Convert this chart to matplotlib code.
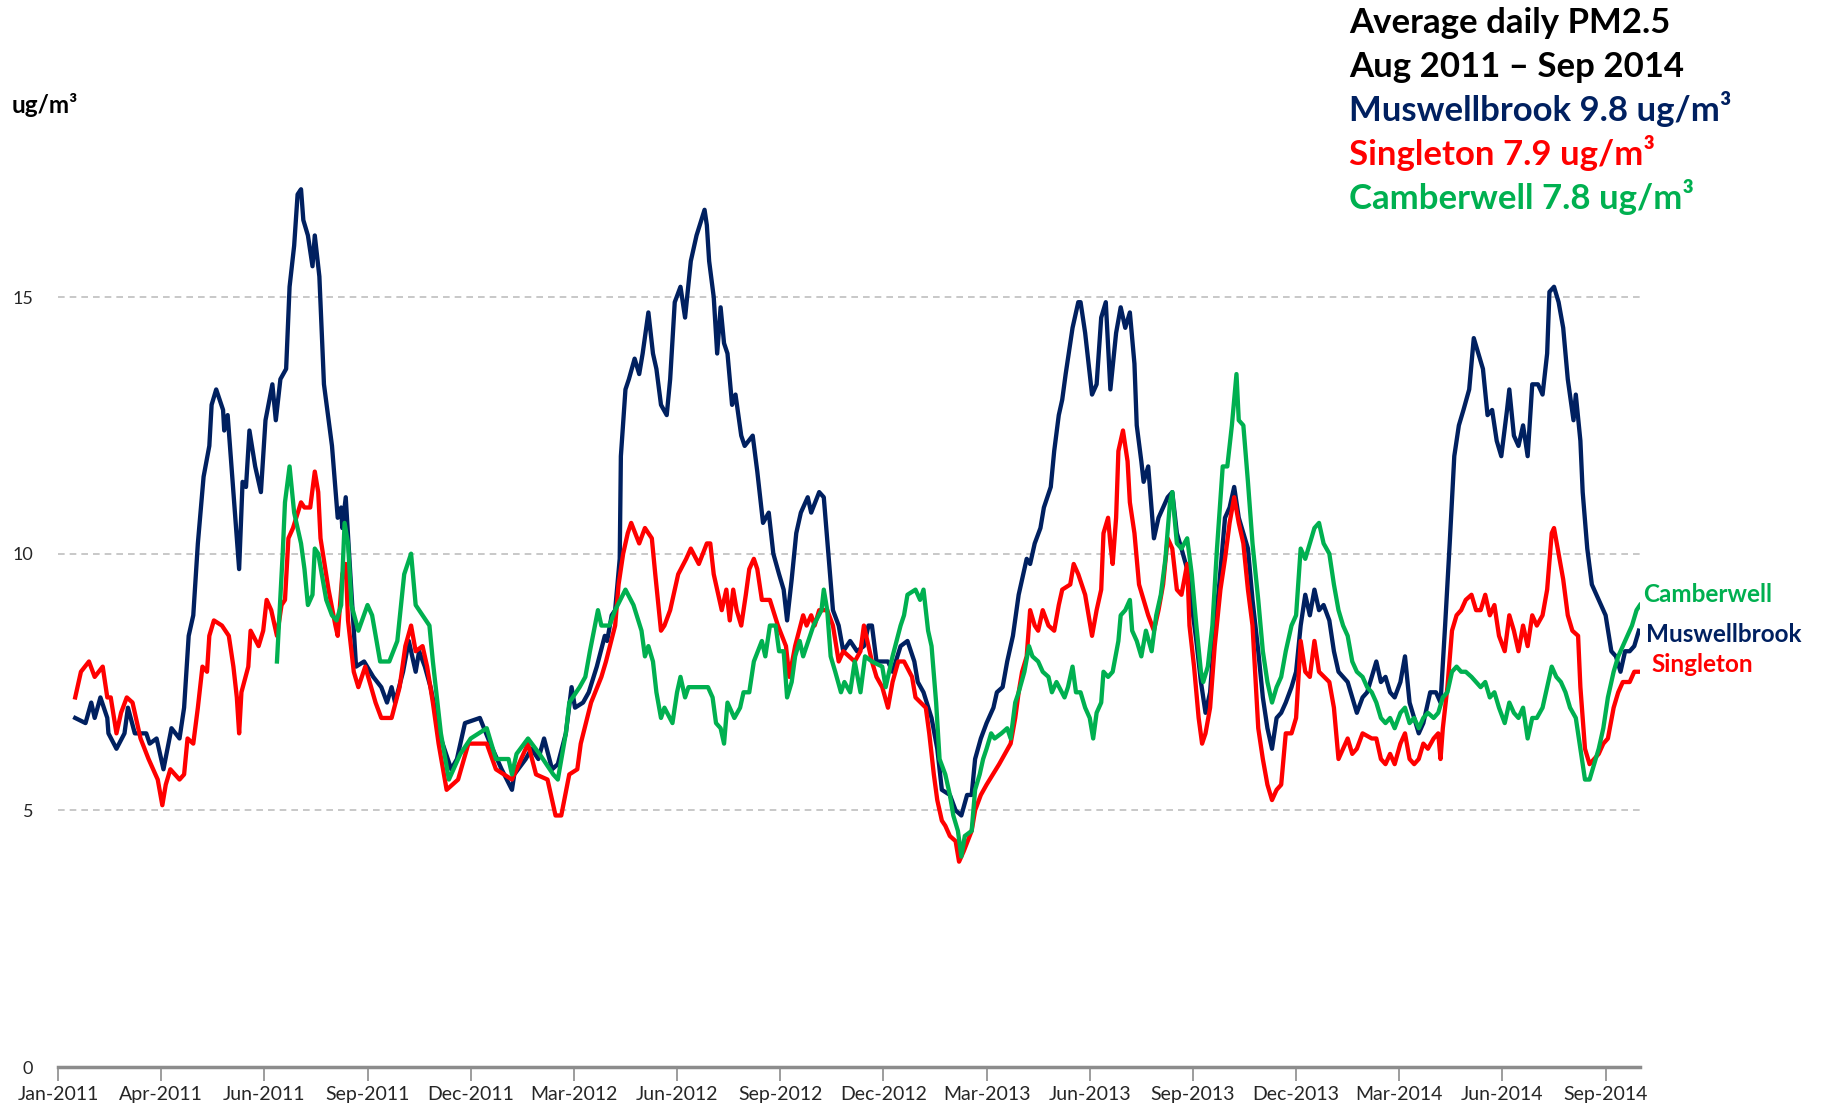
import pandas as pd
import numpy as np
import matplotlib
matplotlib.use("Agg")
import matplotlib.pyplot as plt
import matplotlib.dates as mdates

plt.rcParams['font.family'] = ['Lato', 'DejaVu Sans']

# days are counted from 1 Jan 2011
START = pd.Timestamp("2011-01-01")

mus_days = [15, 24, 29, 32, 37, 43, 44, 51, 58, 61, 67, 77, 80, 86, 92, 99, 106, 110, 114, 118,
            122, 127, 132, 134, 138, 144, 145, 148, 153, 156, 158, 161, 164, 167, 172, 177, 181, 187, 190, 194,
            199, 202, 206, 209, 212, 214, 218, 222, 224, 228, 232, 239, 244, 247, 248, 251, 255, 260, 267, 275,
            282, 287, 291, 294, 301, 306, 312, 315, 320, 325, 334, 343, 348, 355, 368, 377, 387, 396, 398, 408,
            413, 419, 424, 431, 436, 443, 448, 451, 458, 463, 470, 477,
            479, 483, 486, 490, 491, 495, 498, 503, 507, 510, 515, 519, 522, 526, 531, 534, 538, 543, 547, 552,
            557, 564, 566, 568, 572, 575, 578, 581, 584, 588, 591, 596, 599, 606, 610, 615, 620, 624, 629, 633,
            636, 640, 644, 648, 654, 657, 664, 668, 672, 676, 681, 685, 691, 697, 703, 707, 710, 714, 724, 728,
            735, 741, 747, 750, 755, 762, 767, 771, 778, 783, 788, 793, 797, 800, 805, 810, 816, 819, 824, 828,
            833, 838, 842, 845, 848, 852, 857, 860, 866, 869, 873, 876, 879, 885, 890,
            892, 896, 898, 902, 906, 910, 914, 918, 923, 927, 931, 935, 939, 941, 945, 947, 951, 956, 960, 964,
            968, 972, 976, 980, 985, 989, 993, 997, 1001, 1005, 1009, 1013, 1018, 1022, 1026, 1030, 1034, 1038, 1042, 1047,
            1051, 1055, 1059, 1063, 1067, 1071, 1076, 1080, 1084, 1088, 1092, 1096, 1100, 1104, 1109, 1113, 1117, 1121, 1125, 1129,
            1133, 1138, 1142, 1146, 1150, 1154, 1158, 1162, 1166, 1171, 1175, 1179, 1183, 1187, 1191, 1197, 1202, 1206, 1210, 1214,
            1218, 1222, 1226, 1231, 1235, 1239, 1243, 1247, 1251, 1255, 1259, 1264, 1266, 1270, 1274, 1278, 1282, 1286, 1291, 1295,
            1299, 1301, 1305, 1309, 1313, 1317, 1322, 1324, 1328, 1330, 1334, 1338, 1342, 1346, 1350, 1355, 1359, 1363, 1367, 1371,
            1375, 1379]
mus_vals = [6.8, 6.7, 7.1, 6.8, 7.2, 6.8, 6.5, 6.2, 6.5, 7.0, 6.5, 6.5, 6.3, 6.4, 5.8, 6.6, 6.4, 7.0, 8.4, 8.8,
            10.2, 11.5, 12.1, 12.9, 13.2, 12.8, 12.4, 12.7, 11.2, 10.3, 9.7, 11.4, 11.3, 12.4, 11.7, 11.2, 12.6, 13.3, 12.6, 13.4,
            13.6, 15.2, 16.0, 17.0, 17.1, 16.5, 16.2, 15.6, 16.2, 15.4, 13.3, 12.1, 10.7, 10.9, 10.5, 11.1, 9.6, 7.8, 7.9, 7.6,
            7.4, 7.1, 7.4, 7.1, 7.7, 8.3, 7.7, 8.1, 7.8, 7.4, 6.4, 5.8, 6.0, 6.7, 6.8, 6.3, 5.8, 5.4, 5.7, 6.0,
            6.2, 6.0, 6.4, 5.8, 5.9, 6.5, 7.4, 7.0, 7.1, 7.3, 7.8, 8.4,
            8.3, 8.8, 8.9, 9.9, 11.9, 13.2, 13.4, 13.8, 13.5, 13.9, 14.7, 13.9, 13.6, 12.9, 12.7, 13.4, 14.9, 15.2, 14.6, 15.7,
            16.2, 16.7, 16.4, 15.7, 15.0, 13.9, 14.8, 14.1, 13.9, 12.9, 13.1, 12.3, 12.1, 12.3, 11.6, 10.6, 10.8, 10.0, 9.6, 9.3,
            8.7, 9.5, 10.4, 10.8, 11.1, 10.8, 11.2, 11.1, 10.0, 8.9, 8.6, 8.1, 8.3, 8.1, 8.2, 8.6, 8.6, 7.9, 7.9, 7.7,
            8.2, 8.3, 7.9, 7.5, 7.3, 6.8, 6.2, 5.4, 5.3, 5.0, 4.9, 5.3, 5.3, 6.0, 6.4, 6.7, 7.0, 7.3, 7.4, 7.9,
            8.4, 9.2, 9.6, 9.9, 9.8, 10.2, 10.5, 10.9, 11.3, 12.0, 12.7, 13.0, 13.5, 14.4, 14.9,
            14.9, 14.3, 13.9, 13.1, 13.3, 14.6, 14.9, 13.2, 14.3, 14.8, 14.4, 14.7, 13.7, 12.5, 11.8, 11.4, 11.7, 10.3, 10.7, 10.9,
            11.1, 11.2, 10.4, 10.1, 9.7, 9.0, 8.3, 7.5, 6.9, 7.3, 8.5, 9.4, 10.7, 10.9, 11.3, 10.7, 10.4, 10.1, 9.1, 8.1,
            7.2, 6.6, 6.2, 6.8, 6.9, 7.1, 7.4, 7.7, 8.6, 9.2, 8.8, 9.3, 8.9, 9.0, 8.7, 8.1, 7.7, 7.6, 7.5, 7.2,
            6.9, 7.2, 7.3, 7.6, 7.9, 7.5, 7.6, 7.3, 7.2, 7.5, 8.0, 7.1, 6.8, 6.5, 6.7, 7.3, 7.3, 7.1, 8.6, 10.2,
            11.9, 12.5, 12.8, 13.2, 14.2, 13.9, 13.6, 12.7, 12.8, 12.2, 11.9, 12.8, 13.2, 12.3, 12.1, 12.5, 11.9, 13.3, 13.3, 13.1,
            13.9, 15.1, 15.2, 14.9, 14.4, 13.4, 12.6, 13.1, 12.2, 11.2, 10.1, 9.4, 9.2, 9.0, 8.8, 8.1, 8.0, 7.7, 8.1, 8.1,
            8.2, 8.5]

sing_days = [15, 20, 27, 32, 39, 43, 46, 51, 55, 60, 65, 72, 79, 87, 91, 94, 98, 106, 110, 113,
             118, 122, 126, 130, 132, 136, 143, 149, 153, 156, 158, 160, 166, 168, 175, 179, 182, 186, 191, 195,
             198, 201, 205, 212, 215, 220, 224, 227, 229, 236, 242, 244, 248, 251, 253, 258, 262, 268, 277, 282,
             291, 298, 303, 308, 312, 318, 322, 327, 332, 339, 349, 358, 374, 382, 389, 396, 410, 417, 427, 434,
             439, 446, 453, 456, 465, 474,
             478, 486, 489, 493, 497, 500, 507, 512, 518, 521, 526, 529, 534, 541, 548, 552, 559, 566, 569, 572,
             576, 579, 583, 586, 589, 592, 596, 600, 603, 607, 610, 614, 621, 628, 635, 638, 643, 650, 653, 657,
             660, 664, 671, 676, 681, 685, 695, 700, 703, 710, 714, 719, 724, 728, 733, 738, 745, 748, 757, 760,
             764, 767, 771, 774, 778, 783, 786, 790, 797, 800, 805, 810, 821, 831, 835, 838, 841, 845, 848, 852,
             855, 859, 864, 869, 873, 876, 883, 886, 890,
             896, 902, 906, 910, 912, 916, 918, 920, 923, 925, 929, 933, 935, 939, 943, 947, 951, 956, 960, 964,
             968, 972, 976, 980, 985, 987, 991, 995, 998, 1001, 1005, 1009, 1014, 1018, 1022, 1026, 1030, 1034, 1038, 1042,
             1047, 1051, 1055, 1059, 1063, 1067, 1071, 1076, 1080, 1084, 1088, 1092, 1096, 1100, 1109, 1113, 1117, 1121, 1125, 1129,
             1133, 1138, 1146, 1150, 1154, 1158, 1162, 1166, 1171, 1175, 1179, 1183, 1187, 1191, 1195, 1200, 1204, 1206, 1208, 1212,
             1216, 1220, 1224, 1228, 1233, 1237, 1241, 1245, 1249, 1253, 1257, 1262, 1266, 1270, 1274, 1278, 1282, 1286, 1290, 1295,
             1299, 1303, 1305, 1309, 1313, 1317, 1321, 1326, 1328, 1332, 1336, 1340, 1344, 1348, 1352, 1357, 1361, 1365, 1371, 1375,
             1379]
sing_vals = [7.2, 7.7, 7.9, 7.6, 7.8, 7.2, 7.2, 6.5, 6.9, 7.2, 7.1, 6.4, 6.0, 5.6, 5.1, 5.5, 5.8, 5.6, 5.7, 6.4,
             6.3, 7.0, 7.8, 7.7, 8.4, 8.7, 8.6, 8.4, 7.8, 7.2, 6.5, 7.3, 7.8, 8.5, 8.2, 8.5, 9.1, 8.9, 8.4, 9.0,
             9.1, 10.3, 10.5, 11.0, 10.9, 10.9, 11.6, 11.2, 10.3, 9.3, 8.6, 8.4, 9.6, 9.8, 8.7, 7.7, 7.4, 7.8, 7.1, 6.8,
             6.8, 7.4, 8.2, 8.6, 8.1, 8.2, 7.8, 7.1, 6.3, 5.4, 5.6, 6.3, 6.3, 5.8, 5.7, 5.6, 6.3, 5.7, 5.6, 4.9,
             4.9, 5.7, 5.8, 6.3, 7.1, 7.6,
             7.9, 8.6, 9.4, 10.0, 10.4, 10.6, 10.2, 10.5, 10.3, 9.6, 8.5, 8.6, 8.9, 9.6, 9.9, 10.1, 9.8, 10.2, 10.2, 9.6,
             9.2, 8.9, 9.3, 8.7, 9.3, 8.9, 8.6, 9.2, 9.7, 9.9, 9.7, 9.1, 9.1, 8.6, 8.2, 7.6, 8.2, 8.8, 8.6, 8.8,
             8.6, 8.9, 8.9, 8.6, 7.9, 8.1, 7.9, 8.1, 8.6, 7.9, 7.6, 7.4, 7.0, 7.5, 7.9, 7.9, 7.6, 7.2, 7.0, 6.5,
             5.7, 5.2, 4.8, 4.7, 4.5, 4.4, 4.0, 4.2, 4.6, 5.0, 5.3, 5.5, 5.9, 6.3, 6.8, 7.3, 7.7, 8.0, 8.9, 8.6,
             8.5, 8.9, 8.6, 8.5, 9.0, 9.3, 9.4, 9.8, 9.6,
             9.2, 8.4, 8.9, 9.3, 10.4, 10.7, 10.2, 9.8, 10.7, 12.0, 12.4, 11.8, 11.0, 10.4, 9.4, 9.1, 8.8, 8.5, 8.9, 9.4,
             10.3, 10.1, 9.3, 9.2, 9.8, 8.6, 7.8, 6.8, 6.3, 6.5, 7.0, 8.2, 9.3, 9.9, 10.6, 11.1, 10.6, 10.2, 9.3, 8.6,
             6.6, 6.0, 5.5, 5.2, 5.4, 5.5, 6.5, 6.5, 6.8, 8.3, 7.7, 7.6, 8.3, 7.7, 7.5, 7.0, 6.0, 6.2, 6.4, 6.1,
             6.2, 6.5, 6.4, 6.4, 6.0, 5.9, 6.1, 5.9, 6.3, 6.5, 6.0, 5.9, 6.0, 6.3, 6.2, 6.4, 6.5, 6.0, 6.6, 7.4,
             8.5, 8.8, 8.9, 9.1, 9.2, 8.9, 8.9, 9.2, 8.8, 9.0, 8.4, 8.1, 8.8, 8.5, 8.1, 8.6, 8.2, 8.8, 8.6, 8.8,
             9.3, 10.4, 10.5, 10.0, 9.5, 8.8, 8.5, 8.4, 7.4, 6.2, 5.9, 6.0, 6.1, 6.3, 6.4, 7.0, 7.3, 7.5, 7.5, 7.7,
             7.7]

camb_days = [191, 196, 198, 202, 206, 212, 215, 218, 222, 224, 227, 234, 239, 243, 247, 250, 253, 256, 262, 270,
             274, 281, 289, 296, 302, 308, 312, 324, 327, 334, 341, 351, 360, 374, 382, 393, 396, 400, 410, 420,
             432, 436,
             443, 446, 455, 460, 464, 471, 474, 481, 486, 495, 502, 509, 512, 515, 519, 522, 526, 529, 536, 540,
             543, 547, 550, 557, 562, 567, 571, 574, 578, 581, 584, 590, 595, 598, 603, 607, 614, 617, 621, 626,
             629, 633, 636, 640, 643, 647, 650, 653, 659, 666, 668, 671, 674, 678, 683, 686, 691, 695, 700, 704,
             710, 719, 722, 728, 735, 738, 741, 748, 752, 755, 759, 762, 766, 769, 774, 778, 781, 785, 788, 791,
             797, 800, 804, 807, 810, 814, 817, 823, 828, 831, 835, 838, 843, 847, 850, 855, 859, 864, 867, 871,
             878, 881, 885, 888,
             892, 896, 900, 903, 906, 910, 912, 916, 920, 925, 927, 931, 935, 937, 941, 945, 949, 954, 958, 962,
             966, 970, 972, 976, 980, 985, 989, 993, 997, 999, 1003, 1007, 1011, 1016, 1020, 1024, 1028, 1030, 1034, 1038,
             1042, 1047, 1051, 1055, 1059, 1063, 1067, 1071, 1076, 1080, 1084, 1088, 1092, 1096, 1100, 1104, 1109, 1113, 1117, 1121,
             1125, 1129, 1133, 1138, 1142, 1146, 1150, 1154, 1158, 1162, 1166, 1171, 1175, 1179, 1183, 1187, 1191, 1195, 1200, 1204,
             1208, 1212, 1216, 1220, 1224, 1228, 1233, 1237, 1241, 1245, 1249, 1253, 1257, 1262, 1266, 1270, 1274, 1278, 1282, 1286,
             1290, 1295, 1299, 1303, 1307, 1311, 1315, 1319, 1324, 1328, 1332, 1336, 1340, 1344, 1348, 1352, 1357, 1361, 1365, 1369,
             1373, 1377, 1380]
camb_vals = [7.9, 10.0, 11.0, 11.7, 10.8, 10.2, 9.7, 9.0, 9.2, 10.1, 10.0, 9.1, 8.8, 8.7, 9.0, 10.6, 10.2, 9.0, 8.5, 9.0,
             8.8, 7.9, 7.9, 8.3, 9.6, 10.0, 9.0, 8.6, 7.9, 6.5, 5.6, 6.1, 6.4, 6.6, 6.0, 6.0, 5.7, 6.1, 6.4, 6.1,
             5.7, 5.6,
             6.5, 7.1, 7.4, 7.6, 8.1, 8.9, 8.6, 8.6, 8.9, 9.3, 9.0, 8.5, 8.0, 8.2, 7.9, 7.3, 6.8, 7.0, 6.7, 7.3,
             7.6, 7.2, 7.4, 7.4, 7.4, 7.4, 7.2, 6.7, 6.6, 6.3, 7.1, 6.8, 7.0, 7.3, 7.3, 7.9, 8.3, 8.0, 8.6, 8.6,
             8.1, 8.1, 7.2, 7.5, 8.0, 8.3, 8.0, 8.2, 8.6, 8.9, 9.3, 8.9, 8.0, 7.7, 7.3, 7.5, 7.3, 7.9, 7.3, 8.0,
             7.9, 7.8, 7.4, 8.0, 8.6, 8.8, 9.2, 9.3, 9.1, 9.3, 8.5, 8.2, 7.1, 6.0, 5.7, 5.3, 4.9, 4.6, 4.1, 4.5,
             4.6, 5.4, 5.7, 6.0, 6.2, 6.5, 6.4, 6.5, 6.6, 6.4, 7.1, 7.3, 7.7, 8.2, 8.0, 7.9, 7.7, 7.6, 7.3, 7.5,
             7.2, 7.4, 7.8, 7.3,
             7.3, 7.0, 6.8, 6.4, 6.9, 7.1, 7.7, 7.6, 7.7, 8.3, 8.8, 8.9, 9.1, 8.5, 8.3, 8.0, 8.5, 8.1, 8.8, 9.2,
             9.9, 11.0, 11.2, 10.2, 10.1, 10.3, 9.6, 8.6, 7.7, 7.5, 7.8, 8.6, 10.1, 11.7, 11.7, 12.5, 13.5, 12.6, 12.5, 11.4,
             10.2, 9.1, 8.1, 7.5, 7.1, 7.4, 7.6, 8.1, 8.6, 8.8, 10.1, 9.9, 10.2, 10.5, 10.6, 10.2, 10.0, 9.4, 8.9, 8.6,
             8.4, 7.9, 7.7, 7.6, 7.4, 7.3, 7.1, 6.8, 6.7, 6.8, 6.6, 6.9, 7.0, 6.7, 6.8, 6.6, 6.8, 6.9, 6.8, 6.9,
             7.2, 7.3, 7.7, 7.8, 7.7, 7.7, 7.6, 7.5, 7.4, 7.5, 7.2, 7.3, 7.0, 6.7, 7.1, 6.9, 6.8, 7.0, 6.4, 6.8,
             6.8, 7.0, 7.4, 7.8, 7.6, 7.5, 7.3, 7.0, 6.8, 6.2, 5.6, 5.6, 5.9, 6.2, 6.6, 7.2, 7.7, 8.0, 8.2, 8.4,
             8.6, 8.9, 9.0]

NAVY = "#002060"
RED = "#FF0000"
GREEN = "#00B050"

title_lines = ["Average daily PM2.5", "Aug 2011 \u2013 Sep 2014",
               "Muswellbrook 9.8 ug/m\u00b3", "Singleton 7.9 ug/m\u00b3", "Camberwell 7.8 ug/m\u00b3"]
title_colors = ["black", "black", NAVY, RED, GREEN]


def to_dates(days):
    return START + pd.to_timedelta(np.array(days), unit="D")


W, H = 1823, 1104
fig = plt.figure(figsize=(W / 100, H / 100), dpi=100)
ax = fig.add_axes([58 / W, 37 / H, (1640 - 58) / W, 19 * 51.33 / H])

ax.plot(to_dates(mus_days), mus_vals, color=NAVY, lw=3.1, solid_joinstyle="round")
ax.plot(to_dates(sing_days), sing_vals, color=RED, lw=3.1, solid_joinstyle="round")
ax.plot(to_dates(camb_days), camb_vals, color=GREEN, lw=3.1, solid_joinstyle="round")

ax.set_xlim(START, START + pd.Timedelta(days=1380))
ax.set_ylim(0, 19)

# excel style date axis: a tick every 90 days
ticks = [START + pd.Timedelta(days=90 * k) for k in range(16)]
ax.set_xticks(ticks)
ax.xaxis.set_major_formatter(mdates.DateFormatter("%b-%Y"))
ax.set_yticks([0, 5, 10, 15])
ax.set_yticklabels(["0", "5", "10", "15"])

for s in ["top", "right", "left"]:
    ax.spines[s].set_visible(False)
ax.spines["bottom"].set_color("#8c8c8c")
ax.spines["bottom"].set_linewidth(2.5)
ax.tick_params(axis="x", length=10, width=1.2, color="#8c8c8c", pad=4, labelsize=14, labelcolor="#262626")
ax.tick_params(axis="y", length=0, pad=18, labelsize=13, labelcolor="#262626")

for yv in [5, 10, 15]:
    ax.axhline(yv, color="#bfbfbf", lw=1.2, ls=(0, (4, 3)), zorder=0)

fig.text(12 / W, 1 - 105 / H, "ug/m\u00b3", fontsize=17.5, fontweight="bold", va="center", ha="left")

baselines = [33, 77, 121, 165, 209]
for txt, col, yb in zip(title_lines, title_colors, baselines):
    fig.text(1349 / W, 1 - yb / H, txt, fontsize=25, fontweight="bold", color=col,
             ha="left", va="baseline")

fig.text(1643 / W, 1 - 595 / H, "Camberwell", fontsize=17.5, fontweight="bold", color=GREEN, va="center")
fig.text(1646 / W, 1 - 634 / H, "Muswellbrook", fontsize=17.5, fontweight="bold", color=NAVY, va="center")
fig.text(1651 / W, 1 - 664 / H, "Singleton", fontsize=17.5, fontweight="bold", color=RED, va="center")

fig.savefig("out.png", dpi=100)
